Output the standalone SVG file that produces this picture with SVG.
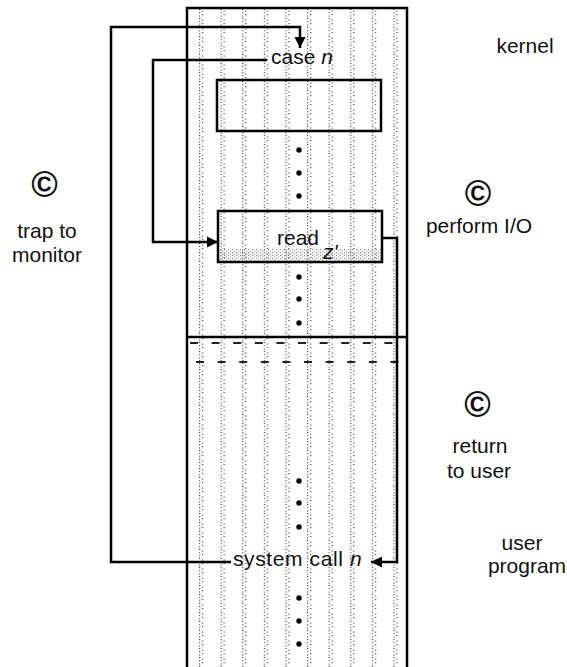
<svg xmlns="http://www.w3.org/2000/svg" width="567" height="667" viewBox="0 0 567 667">
<defs>
<style>
text{font-family:"Liberation Sans",Arial,sans-serif;fill:#111;}
.lbl{font-size:21px;text-anchor:middle;}
.cc{font-size:36px;text-anchor:middle;font-weight:bold;}
.in{font-size:21px;}
.ln{fill:none;stroke:#000;stroke-width:2.5;}
.box{stroke:#000;stroke-width:2.5;}
.dot{fill:#000;}
</style>
<pattern id="stip" x="199" y="0" width="21.6" height="9" patternUnits="userSpaceOnUse">
<rect x="0" y="0" width="1.2" height="1.2" fill="#444"/>
<rect x="3" y="1.5" width="1.2" height="1.2" fill="#555"/>
<rect x="0" y="3" width="1.2" height="1.2" fill="#666"/>
<rect x="3" y="5" width="1.2" height="1.2" fill="#444"/>
<rect x="0" y="6.5" width="1.2" height="1.2" fill="#666"/>
</pattern>
<pattern id="band" x="0" y="0" width="4" height="3" patternUnits="userSpaceOnUse">
<rect x="0" y="0" width="1.2" height="1.2" fill="#888"/>
<rect x="2" y="1.5" width="1.2" height="1.2" fill="#999"/>
</pattern>
<marker id="ah" viewBox="0 0 10 10" refX="10" refY="5" markerWidth="4.5" markerHeight="4.5" orient="auto" markerUnits="strokeWidth">
<path d="M0,0 L10,5 L0,10 z" fill="#000"/>
</marker>
</defs>
<rect x="0" y="0" width="567" height="667" fill="#fff"/>

<g id="memory">
<rect x="187" y="8" width="220" height="665" fill="url(#stip)"/>
<path class="ln" d="M187,667 V8 H407 V667"/>
<line class="box" x1="186" y1="337" x2="408" y2="337"/>
<line x1="190" y1="343" x2="405" y2="343" stroke="#222" stroke-width="2" stroke-dasharray="8 13.6"/>
<line x1="196" y1="362" x2="405" y2="362" stroke="#222" stroke-width="2" stroke-dasharray="8 13.6"/>
</g>

<g id="box-upper">
<rect x="217" y="80" width="164" height="51" fill="none" class="box"/>
</g>

<g id="case-n">
<text class="in" x="271" y="64">case <tspan font-style="italic">n</tspan></text>
</g>

<g id="kernel-dots">
<circle class="dot" cx="299" cy="150" r="2.7"/>
<circle class="dot" cx="299" cy="173" r="2.7"/>
<circle class="dot" cx="299" cy="196" r="2.7"/>
</g>

<g id="read">
<rect x="219" y="249" width="162" height="13" fill="url(#band)"/>
<rect x="218" y="211" width="164" height="51" fill="none" class="box"/>
<text class="in" x="277" y="245">read</text>
<text class="in" x="323" y="259" font-style="italic" font-size="18">z'</text>
</g>

<g id="read-dots">
<circle class="dot" cx="299" cy="277" r="2.7"/>
<circle class="dot" cx="299" cy="299" r="2.7"/>
<circle class="dot" cx="299" cy="323" r="2.7"/>
</g>

<g id="user-dots">
<circle class="dot" cx="299" cy="481" r="2.7"/>
<circle class="dot" cx="299" cy="503" r="2.7"/>
<circle class="dot" cx="299" cy="527" r="2.7"/>
</g>

<g id="system-call">
<text class="in" x="233" y="566" font-size="22" letter-spacing="0.6">system call <tspan font-style="italic">n</tspan></text>
</g>

<g id="bottom-dots">
<circle class="dot" cx="299" cy="598" r="2.7"/>
<circle class="dot" cx="299" cy="621" r="2.7"/>
<circle class="dot" cx="299" cy="644" r="2.7"/>
</g>

<g id="connectors">
<path class="ln" d="M231,562 H111 V27 H300 V48" marker-end="url(#ah)"/>
<path class="ln" d="M267,60 H153 V242 H218" marker-end="url(#ah)"/>
<path class="ln" d="M382,238 H397 V562 H371" marker-end="url(#ah)"/>
</g>

<g id="labels">
<text class="lbl" x="525" y="53">kernel</text>
<text class="cc" x="44.5" y="197">©</text>
<text class="lbl" x="47" y="238">trap to</text>
<text class="lbl" x="47" y="262">monitor</text>
<text class="cc" x="478" y="206">©</text>
<text class="lbl" x="479" y="233">perform I/O</text>
<text class="cc" x="477.5" y="417">©</text>
<text class="lbl" x="480" y="453">return</text>
<text class="lbl" x="479" y="478">to user</text>
<text class="lbl" x="522" y="550">user</text>
<text class="lbl" x="527" y="573">program</text>
</g>
</svg>
